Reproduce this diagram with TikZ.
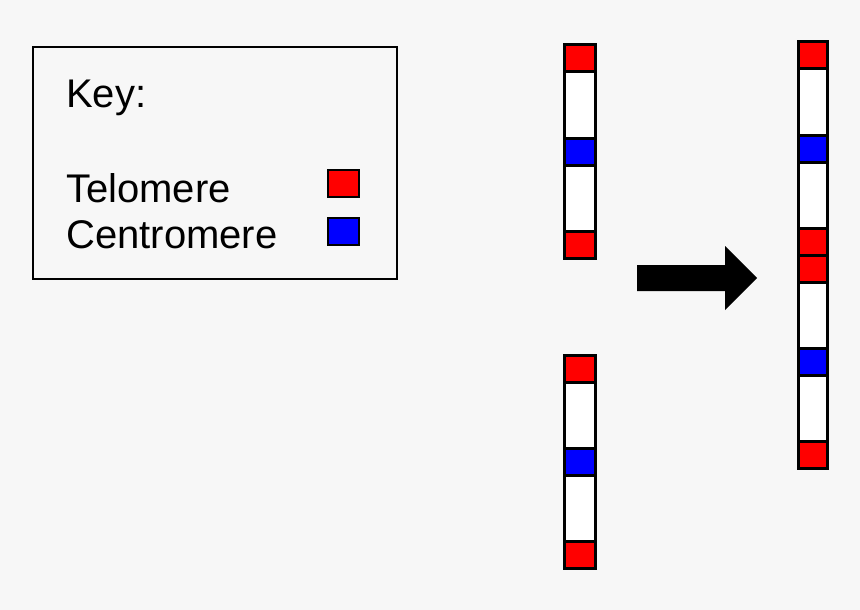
\documentclass[tikz,border=0pt]{standalone}
\usepackage{fontspec}
\setmainfont{Liberation Sans}
\usepackage{xcolor}
\usetikzlibrary{positioning}

\definecolor{bgc}{HTML}{F7F7F7}
\definecolor{telored}{HTML}{FF0000}
\definecolor{centroblue}{HTML}{0000FF}

\tikzset{
  seg/.style={rectangle,draw=black,line width=3pt,outer sep=0pt,inner sep=0pt},
  telo/.style={seg,fill=telored,minimum height=27},
  centro/.style={seg,fill=centroblue,minimum height=27},
  arm/.style={seg,fill=white,minimum height=66},
  keysq/.style={rectangle,draw=black,line width=2pt,minimum width=31,minimum height=27,inner sep=0pt},
  keytext/.style={anchor=base west,inner sep=0pt,font=\fontsize{40}{48}\selectfont}
}

\begin{document}
\begin{tikzpicture}[x=1pt,y=-1pt]
\fill[bgc] (0,0) rectangle (860,610);
\useasboundingbox (0,0) rectangle (860,610);

% key
\node[rectangle,draw=black,line width=2.5pt,minimum width=364,minimum height=232,inner sep=0pt] (keybox) at (215,163){};
\node[keytext] (key) at (66,107){Key:};
\node[keytext] (tel) at (66,202){Telomere};
\node[keytext] (cen) at (66,248){Centromere};
\node[keysq,fill=telored] (telsq) at (343.5,183.5){};
\node[keysq,fill=centroblue] (censq) at (343.5,231.5){};

% first chromosome
\node[telo,minimum width=31,anchor=north] (a1) at (580,45){};
\node[arm,minimum width=31,below=0pt of a1] (a2){};
\node[centro,minimum width=31,below=0pt of a2] (a3){};
\node[arm,minimum width=31,below=0pt of a3] (a4){};
\node[telo,minimum width=31,below=0pt of a4] (a5){};

% second chromosome
\node[telo,minimum width=31,anchor=north] (b1) at (580,355){};
\node[arm,minimum width=31,below=0pt of b1] (b2){};
\node[centro,minimum width=31,below=0pt of b2] (b3){};
\node[arm,minimum width=31,below=0pt of b3] (b4){};
\node[telo,minimum width=31,below=0pt of b4] (b5){};

% arrow
\fill[black] (637,265) -- (725,265) -- (725,246) -- (757,278) -- (725,310) -- (725,291) -- (637,291) -- cycle;

% fused chromosome
\node[telo,minimum width=29,anchor=north] (f1) at (813,42){};
\node[arm,minimum width=29,below=0pt of f1] (f2){};
\node[centro,minimum width=29,below=0pt of f2] (f3){};
\node[arm,minimum width=29,below=0pt of f3] (f4){};
\node[telo,minimum width=29,below=0pt of f4] (f5){};
\node[telo,minimum width=29,below=0pt of f5] (f6){};
\node[arm,minimum width=29,below=0pt of f6] (f7){};
\node[centro,minimum width=29,below=0pt of f7] (f8){};
\node[arm,minimum width=29,below=0pt of f8] (f9){};
\node[telo,minimum width=29,below=0pt of f9] (f10){};
\end{tikzpicture}
\end{document}
